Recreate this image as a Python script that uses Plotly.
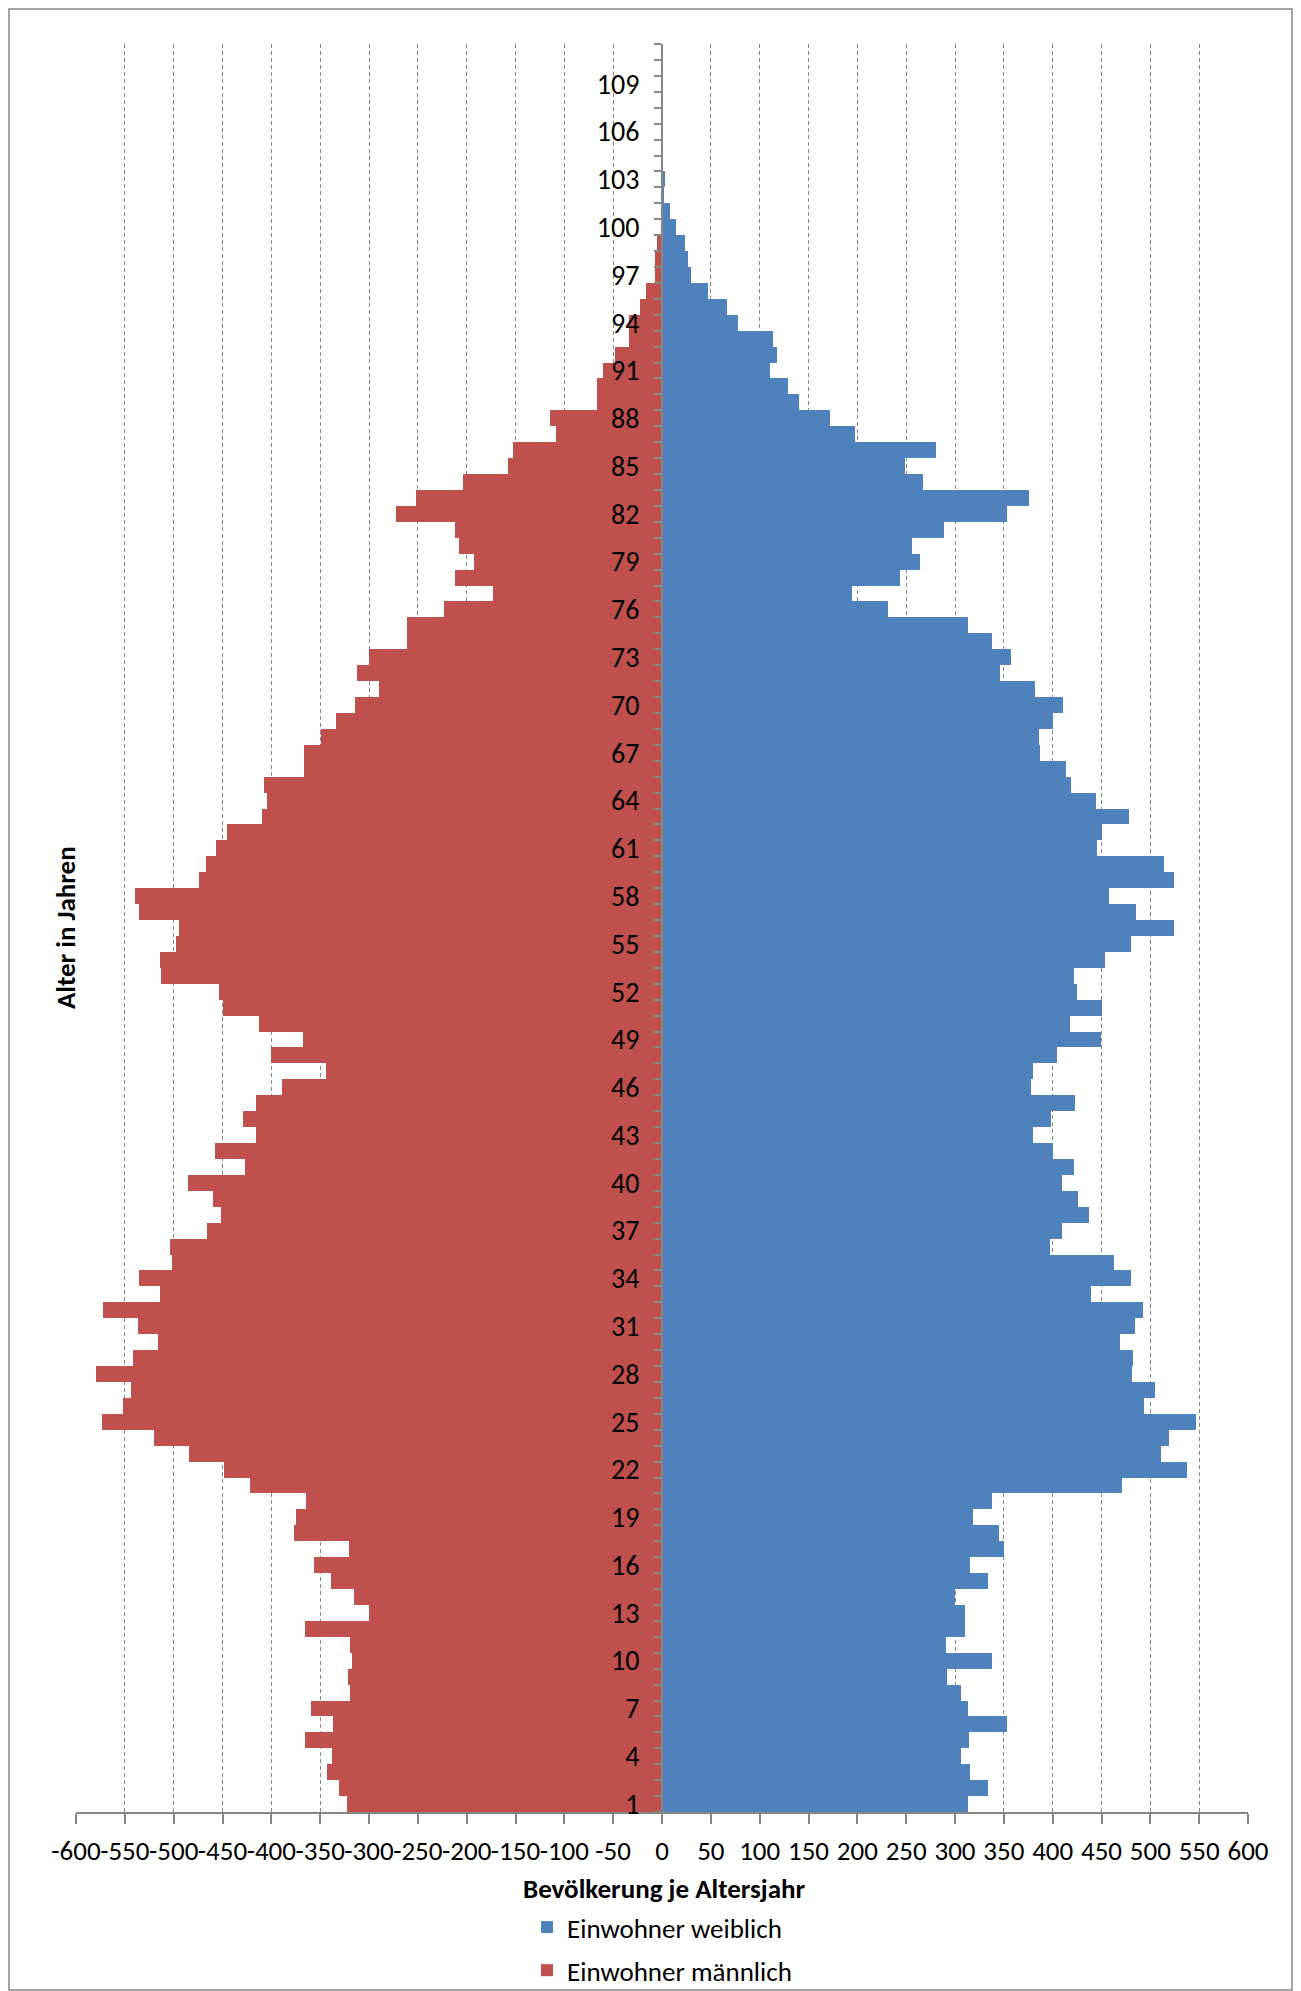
import plotly.graph_objects as go

# Alter 1..111
ages = list(range(1, 112))

# Einwohner weiblich je Altersjahr (ab Alter 1)
female = [313, 334, 315, 306, 314, 353, 313, 306, 292, 338,
          291, 310, 310, 300, 334, 315, 350, 345, 318, 338,
          471, 538, 511, 519, 547, 494, 505, 481, 482, 469,
          484, 492, 439, 480, 463, 397, 410, 437, 426, 410,
          422, 400, 380, 398, 423, 378, 380, 404, 449, 418,
          451, 425, 422, 454, 480, 524, 485, 458, 524, 514,
          445, 451, 478, 444, 419, 414, 387, 386, 400, 411,
          382, 346, 357, 338, 313, 231, 195, 244, 264, 256,
          289, 353, 376, 267, 249, 281, 198, 172, 140, 129,
          111, 118, 114, 78, 67, 47, 30, 27, 24, 14,
          8, 2, 3, 1, 0, 0, 0, 0, 1, 1, 0]

# Einwohner männlich je Altersjahr (ab Alter 1)
male = [323, 331, 343, 338, 366, 337, 359, 319, 322, 317,
        319, 366, 300, 315, 339, 356, 320, 377, 375, 364,
        422, 448, 484, 520, 573, 552, 544, 580, 542, 516,
        537, 572, 514, 535, 502, 504, 466, 452, 460, 485,
        427, 458, 416, 429, 416, 389, 344, 400, 368, 413,
        450, 454, 513, 514, 498, 495, 536, 540, 474, 467,
        457, 445, 410, 404, 408, 367, 367, 349, 334, 314,
        290, 312, 300, 261, 261, 223, 173, 212, 193, 208,
        212, 272, 252, 204, 158, 153, 109, 115, 67, 67,
        60, 48, 34, 34, 23, 16, 7, 7, 5, 1,
        0, 0, 0, 0, 0, 0, 0, 0, 0, 0, 0]

x_ticks = list(range(-600, 601, 50))
x_labels = [str(v) for v in x_ticks]

font = "Carlito, Roboto, sans-serif"
grey = "#868686"

# page body has an 8px margin, so the figure is a bit smaller than the window
W, H = 1285, 1983
L, R, T, B = 68, 45, 36, 179
pw, ph = W - L - R, H - T - B

fig = go.Figure()
fig.add_trace(go.Bar(
    y=ages, x=female, orientation="h", name="Einwohner weiblich",
    marker=dict(color="#4F81BD", line=dict(width=0)),
    legendgroup="w",
))
fig.add_trace(go.Bar(
    y=ages, x=[-v for v in male], orientation="h", name="Einwohner männlich",
    marker=dict(color="#C0504D", line=dict(width=0)),
    legendgroup="m",
))

fig.update_layout(
    width=W, height=H,
    margin=dict(l=L, r=R, t=T, b=B),
    paper_bgcolor="white", plot_bgcolor="white",
    barmode="relative", bargap=0,
    font=dict(family=font, size=27, color="black"),
    xaxis=dict(
        range=[-600, 600], tickvals=x_ticks, ticktext=x_labels, tickangle=0,
        showgrid=True, gridcolor=grey, griddash="4px,3px", gridwidth=1,
        zeroline=False, showline=True, linecolor=grey, linewidth=2,
        ticks="outside", ticklen=10, tickcolor=grey, tickwidth=1.5,
        ticklabelstandoff=4,
        tickfont=dict(size=27),
    ),
    yaxis=dict(
        range=[0.5, 111.5], tick0=1, dtick=3, ticks="",
        anchor="free", position=0.5,
        showline=True, linecolor=grey, linewidth=2,
        showgrid=False, zeroline=False,
        ticklabelstandoff=16,
        minor=dict(ticks="outside", tick0=0.5, dtick=1, ticklen=7,
                   tickcolor=grey, tickwidth=1.5, showgrid=False),
        tickfont=dict(size=28),
    ),
    showlegend=True,
    legend=dict(
        x=0.5, xanchor="center", y=1 - 1895 / H, yanchor="top", yref="container",
        orientation="v", traceorder="grouped", tracegroupgap=5,
        bgcolor="rgba(0,0,0,0)",
        font=dict(size=27),
    ),
    annotations=[
        dict(text="<b>Alter in Jahren</b>", x=-11 / pw, y=0.5,
             xref="paper", yref="paper", textangle=-90, showarrow=False,
             xanchor="center", yanchor="middle", font=dict(size=27)),
        dict(text="<b>Bevölkerung je Altersjahr</b>", x=0.502, y=-76 / ph,
             xref="paper", yref="paper", showarrow=False,
             xanchor="center", yanchor="middle", font=dict(size=27)),
    ],
    shapes=[
        dict(type="rect", xref="paper", yref="paper",
             x0=(-L + 1) / pw, x1=(W - L - 1) / pw,
             y0=(-B + 1) / ph, y1=1 + (T - 1) / ph,
             line=dict(color=grey, width=1.5)),
    ],
)

fig.write_html("out.html")
